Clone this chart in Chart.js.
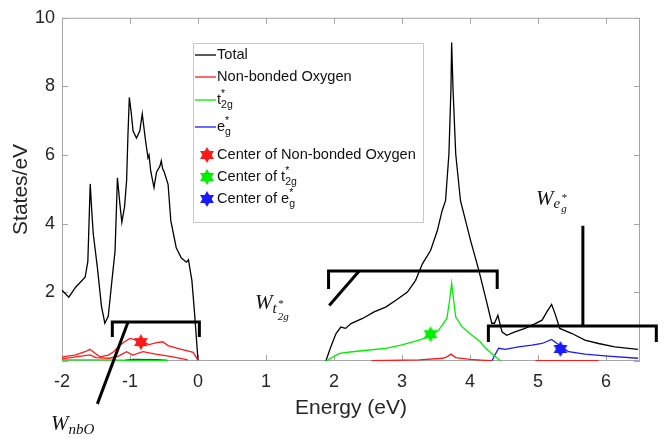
<!DOCTYPE html>
<html>
<head>
<meta charset="utf-8">
<script src="https://cdn.jsdelivr.net/npm/chart.js@4.4.1/dist/chart.umd.min.js"></script>
<style>
  html, body { margin: 0; padding: 0; background: #fff; }
</style>
</head>
<body>
<canvas id="dosChart" width="669" height="439"></canvas>
<script>
// axis ticks
const xTicks = [-2, -1, 0, 1, 2, 3, 4, 5, 6];
const yTicks = [0, 2, 4, 6, 8, 10];
const yTickLabels = ['', '2', '4', '6', '8', '10'];

// Total DOS (null = gap where total is zero)
const totalE = [-2, -1.9, -1.8, -1.66, -1.62, -1.585, -1.56, -1.54, -1.48, -1.42, -1.37, -1.32, -1.27, -1.22, -1.2, -1.185,
  -1.15, -1.12, -1.08, -1.05, -1.03, -1.01, -0.98, -0.955, -0.905, -0.856, -0.82, -0.77, -0.735, -0.72, -0.695, -0.647,
  -0.61, -0.56, -0.54, -0.52, -0.5, -0.44, -0.4, -0.32, -0.245, -0.17, -0.14, -0.12, -0.09, -0.05, 0, 1,
  1.88, 1.955, 2.03, 2.1, 2.17, 2.25, 2.42, 2.59, 2.76, 2.91, 3.08, 3.2, 3.3, 3.42, 3.52, 3.59, 3.64, 3.69, 3.72, 3.73,
  3.75, 3.79, 3.86, 4.01, 4.13, 4.25, 4.32, 4.36, 4.41, 4.47, 4.54, 4.66, 4.81, 4.96, 5.06, 5.13, 5.2, 5.25, 5.32,
  5.5, 5.69, 5.89, 6.13, 6.47];
const totalDos = [2.06, 1.86, 2.15, 2.44, 2.9, 5.16, 4.3, 3.7, 2.73, 1.6, 1.1, 1.3, 2.26, 3.2, 4.4, 5.34,
  4.6, 4.04, 4.5, 5.25, 6.6, 7.68, 7.2, 6.7, 6.5, 6.7, 7.2, 6.4, 5.92, 6.0, 5.53, 5.05,
  5.5, 5.68, 5.83, 5.6, 5.53, 5.15, 4.09, 3.3, 3.0, 2.88, 2.95, 2.7, 2.35, 1.38, 0.03, null,
  0, 0.42, 0.8, 0.99, 0.95, 1.09, 1.24, 1.43, 1.57, 1.77, 2.01, 2.35, 2.83, 3.22, 3.8, 4.38, 4.67, 6.03, 7.95, 9.28,
  7.95, 6.03, 4.67, 3.5, 2.64, 1.68, 1.1, 1.1, 1.33, 0.85, 0.75, 0.85, 0.95, 1.09, 1.19, 1.43, 1.65, 1.38, 0.95,
  0.8, 0.61, 0.51, 0.41, 0.34];

// Non-bonded oxygen (two red curves)
const nboE = [-2, -1.81, -1.66, -1.59, -1.51, -1.44, -1.32, -1.24, -1.17, -1.08, -1.0, -0.9, -0.8, -0.72, -0.62, -0.52,
  -0.44, -0.3, -0.17, -0.07, 0, 1, 2.55, 3.25, 3.6, 3.66, 3.72, 3.79, 4.0, 4.22, 4.32, 4.6, 4.96, 5.89];
const nboDos = [0.12, 0.17, 0.27, 0.34, 0.22, 0.12, 0.17, 0.27, 0.42, 0.56, 0.66, 0.6, 0.55, 0.48, 0.53, 0.56,
  0.45, 0.37, 0.3, 0.25, 0.02, null, 0.01, 0.03, 0.08, 0.12, 0.2, 0.1, 0.05, 0.02, 0.01, null, 0.01, 0.01];
const nbo2E = [-2, -1.59, -1.5, -1.3, -1.17, -1.05, -0.96, -0.81, -0.62, -0.37, -0.15];
const nbo2Dos = [0.06, 0.18, 0.1, 0.08, 0.14, 0.27, 0.17, 0.27, 0.2, 0.12, 0.03];

// t*2g
const t2gE = [-2, -1.35, -1.0, -0.45, 1, 1.88, 2.08, 2.27, 2.52, 2.76, 3.0, 3.25, 3.39, 3.54, 3.66, 3.7, 3.73, 3.76,
  3.79, 3.88, 4.03, 4.15, 4.23, 4.32, 4.45];
const t2gDos = [0.03, 0.03, 0.02, 0.02, null, 0, 0.22, 0.27, 0.32, 0.37, 0.47, 0.61, 0.7, 0.9, 1.24, 1.77, 2.27, 1.77,
  1.29, 1.0, 0.75, 0.56, 0.37, 0.22, 0];

// e*g
const egE = [-1.08, -0.95, -0.6, -0.45, 1, 4.32, 4.42, 4.52, 4.71, 4.91, 5.06, 5.2, 5.28, 5.45, 5.69, 6.03, 6.47];
const egDos = [0.02, 0.05, 0.04, 0.02, null, 0, 0.37, 0.34, 0.41, 0.46, 0.51, 0.63, 0.51, 0.27, 0.2, 0.14, 0.08];

// band centres
const centerNbo = [-0.84, 0.55];
const centerT2g = [3.42, 0.78];
const centerEg = [5.33, 0.35];

// width brackets (energy / states units)
const brackets = [
  { x1: -1.26, x2: 0.02, y: 1.14, leg: 0.7, line: [-1.03, 1.13, -1.48, -1.25] },
  { x1: 1.92, x2: 4.4, y: 2.62, leg: 2.1, line: [2.37, 2.62, 1.93, 1.62] },
  { x1: 4.27, x2: 6.74, y: 1.02, leg: 0.55, line: [5.66, 3.94, 5.66, 1.02] }
];

const RED = '#ff1a1a', GREEN = '#00ee00', BLUE = '#1a1aff';

function pts(xs, ys) {
  return xs.map((x, i) => ({ x: x, y: ys[i] }));
}

function hexagram(color, r) {
  const c = document.createElement('canvas');
  c.width = c.height = Math.ceil(2 * r + 2);
  const g = c.getContext('2d');
  const cx = c.width / 2, cy = c.height / 2;
  g.fillStyle = color;
  [-Math.PI / 2, Math.PI / 2].forEach(a0 => {
    g.beginPath();
    for (let k = 0; k < 3; k++) {
      const a = a0 + k * 2 * Math.PI / 3;
      const px = cx + r * Math.cos(a), py = cy + r * Math.sin(a);
      if (k === 0) g.moveTo(px, py); else g.lineTo(px, py);
    }
    g.closePath();
    g.fill();
  });
  return c;
}

const starRed = hexagram(RED, 8);
const starGreen = hexagram(GREEN, 8);
const starBlue = hexagram(BLUE, 8);

// draw text made of normal / sup / sub parts
function richText(ctx, x, y, parts, size) {
  let cx = x;
  let supEnd = null;
  parts.forEach(p => {
    const [txt, mode] = p;
    const fs = mode ? size * 0.72 : size;
    ctx.font = fs + 'px "Liberation Sans", Arial, sans-serif';
    let dy = 0;
    let sx = cx;
    if (mode === 'sup') { dy = -size * 0.38; supEnd = cx; }
    if (mode === 'sub') { dy = size * 0.35; if (supEnd !== null) sx = supEnd; }
    ctx.fillText(txt, sx, y + dy);
    const w = ctx.measureText(txt).width;
    if (mode === 'sub' && supEnd !== null) { cx = Math.max(cx, sx + w); supEnd = null; }
    else cx = sx + w;
  });
}

const legendItems = [
  { kind: 'line', color: '#000', parts: [['Total', '']] },
  { kind: 'line', color: RED, parts: [['Non-bonded Oxygen', '']] },
  { kind: 'line', color: GREEN, parts: [['t', ''], ['*', 'sup'], ['2g', 'sub']] },
  { kind: 'line', color: BLUE, parts: [['e', ''], ['*', 'sup'], ['g', 'sub']] },
  { kind: 'star', img: starRed, parts: [['Center of Non-bonded Oxygen', '']] },
  { kind: 'star', img: starGreen, parts: [['Center of t', ''], ['*', 'sup'], ['2g', 'sub']] },
  { kind: 'star', img: starBlue, parts: [['Center of e', ''], ['*', 'sup'], ['g', 'sub']] }
];
const legendRows = [55, 77, 100, 127, 155, 177, 199];

const framePlugin = {
  id: 'frame',
  beforeDatasetsDraw(chart) {
    const { ctx, chartArea: a, scales: { x, y } } = chart;
    ctx.save();
    ctx.strokeStyle = '#a6a6a6';
    ctx.lineWidth = 1;
    ctx.strokeRect(a.left + 0.5, a.top + 0.5, a.right - a.left - 1, a.bottom - a.top - 1);
    ctx.beginPath();
    xTicks.forEach(v => {
      const px = Math.round(x.getPixelForValue(v)) + 0.5;
      ctx.moveTo(px, a.bottom); ctx.lineTo(px, a.bottom - 6);
      ctx.moveTo(px, a.top); ctx.lineTo(px, a.top + 6);
    });
    yTicks.forEach(v => {
      const py = Math.round(y.getPixelForValue(v)) + 0.5;
      ctx.moveTo(a.left, py); ctx.lineTo(a.left + 6, py);
      ctx.moveTo(a.right, py); ctx.lineTo(a.right - 6, py);
    });
    ctx.stroke();
    ctx.restore();
  },
  afterDraw(chart) {
    const { ctx, scales: { x, y } } = chart;
    ctx.save();
    // brackets
    ctx.strokeStyle = '#000';
    ctx.lineWidth = 3;
    ctx.lineCap = 'butt';
    brackets.forEach(b => {
      const x1 = x.getPixelForValue(b.x1), x2 = x.getPixelForValue(b.x2);
      const yy = y.getPixelForValue(b.y), yl = y.getPixelForValue(b.leg);
      ctx.beginPath();
      ctx.moveTo(x1, yl); ctx.lineTo(x1, yy); ctx.lineTo(x2, yy); ctx.lineTo(x2, yl);
      ctx.stroke();
      const l = b.line;
      ctx.beginPath();
      ctx.moveTo(x.getPixelForValue(l[0]), y.getPixelForValue(l[1]));
      ctx.lineTo(x.getPixelForValue(l[2]), y.getPixelForValue(l[3]));
      ctx.stroke();
    });
    // width labels
    ctx.fillStyle = '#111';
    ctx.textBaseline = 'alphabetic';
    ctx.textAlign = 'left';
    function wLabel(px, py, drawSub) {
      ctx.font = 'italic 21px "Liberation Serif", serif';
      ctx.fillText('W', px, py);
      drawSub(px + ctx.measureText('W').width, py);
    }
    wLabel(51, 430, (sx, sy) => {
      ctx.font = 'italic 15px "Liberation Serif", serif';
      ctx.fillText('nbO', sx, sy + 4);
    });
    wLabel(255, 309, (sx, sy) => {
      ctx.font = 'italic 15px "Liberation Serif", serif';
      ctx.fillText('t', sx, sy + 4);
      const tw = ctx.measureText('t').width;
      ctx.font = 'italic 11px "Liberation Serif", serif';
      ctx.fillText('*', sx + tw + 1, sy - 2);
      ctx.fillText('2g', sx + tw + 1, sy + 11);
    });
    wLabel(536, 205, (sx, sy) => {
      ctx.font = 'italic 15px "Liberation Serif", serif';
      ctx.fillText('e', sx, sy + 3);
      const ew = ctx.measureText('e').width;
      ctx.font = 'italic 11px "Liberation Serif", serif';
      ctx.fillText('*', sx + ew + 1, sy - 4);
      ctx.fillText('g', sx + ew + 1, sy + 7);
    });
    // legend box
    ctx.fillStyle = '#fff';
    ctx.fillRect(193, 43, 230, 179);
    ctx.strokeStyle = '#c8c8c8';
    ctx.lineWidth = 1;
    ctx.strokeRect(193.5, 43.5, 230, 179);
    ctx.textBaseline = 'middle';
    legendItems.forEach((it, i) => {
      const ry = legendRows[i];
      if (it.kind === 'line') {
        ctx.strokeStyle = it.color;
        ctx.lineWidth = 1.3;
        ctx.beginPath();
        ctx.moveTo(195, ry); ctx.lineTo(216, ry);
        ctx.stroke();
      } else {
        ctx.drawImage(it.img, 207 - it.img.width / 2, ry - it.img.height / 2);
      }
      ctx.fillStyle = '#111';
      richText(ctx, 217, ry, it.parts, 14.6);
    });
    ctx.restore();
  }
};

const lineSet = (label, xs, ys, color, order) => ({
  label: label,
  data: pts(xs, ys),
  borderColor: color,
  borderWidth: 1.3,
  pointRadius: 0,
  spanGaps: false,
  order: order
});
const centerSet = (label, c, img) => ({
  label: label,
  data: [{ x: c[0], y: c[1] }],
  showLine: false,
  pointStyle: img,
  pointRadius: 8,
  order: 0
});

const ctx = document.getElementById('dosChart').getContext('2d');
const tickFont = { family: '"Liberation Sans", Arial, sans-serif', size: 18 };
const titleFont = { family: '"Liberation Sans", Arial, sans-serif', size: 21 };

new Chart(ctx, {
  type: 'line',
  data: {
    datasets: [
      lineSet('Total', totalE, totalDos, '#000', 5),
      lineSet('Non-bonded Oxygen', nboE, nboDos, RED, 2),
      lineSet('Non-bonded Oxygen (2)', nbo2E, nbo2Dos, RED, 2),
      lineSet('t*2g', t2gE, t2gDos, GREEN, 3),
      lineSet('e*g', egE, egDos, BLUE, 3),
      centerSet('Center of Non-bonded Oxygen', centerNbo, starRed),
      centerSet('Center of t*2g', centerT2g, starGreen),
      centerSet('Center of e*g', centerEg, starBlue)
    ]
  },
  options: {
    responsive: false,
    animation: false,
    layout: { padding: { left: 0, right: 29, top: 16, bottom: 0 } },
    plugins: { legend: { display: false }, tooltip: { enabled: false } },
    elements: { line: { tension: 0 } },
    scales: {
      x: {
        type: 'linear',
        min: -2,
        max: 6.5,
        afterBuildTicks: s => { s.ticks = xTicks.map(v => ({ value: v })); },
        afterFit: s => { s.height = 78; },
        grid: { display: false, drawTicks: false },
        border: { display: false },
        ticks: { padding: 10, color: '#262626', font: tickFont, maxRotation: 0, autoSkip: false, callback: v => String(v) },
        title: { display: true, text: 'Energy (eV)', color: '#262626', font: titleFont, padding: { top: 0, bottom: 18 } }
      },
      y: {
        type: 'linear',
        min: 0,
        max: 10,
        afterBuildTicks: s => { s.ticks = yTicks.map(v => ({ value: v })); },
        afterFit: s => { s.width = 62; },
        grid: { display: false, drawTicks: false },
        border: { display: false },
        ticks: { padding: 7, color: '#262626', font: tickFont, callback: (v, i) => yTickLabels[i] },
        title: { display: true, text: 'States/eV', color: '#262626', font: titleFont, padding: { top: 9, bottom: 0 } }
      }
    }
  },
  plugins: [framePlugin]
});
</script>
</body>
</html>
